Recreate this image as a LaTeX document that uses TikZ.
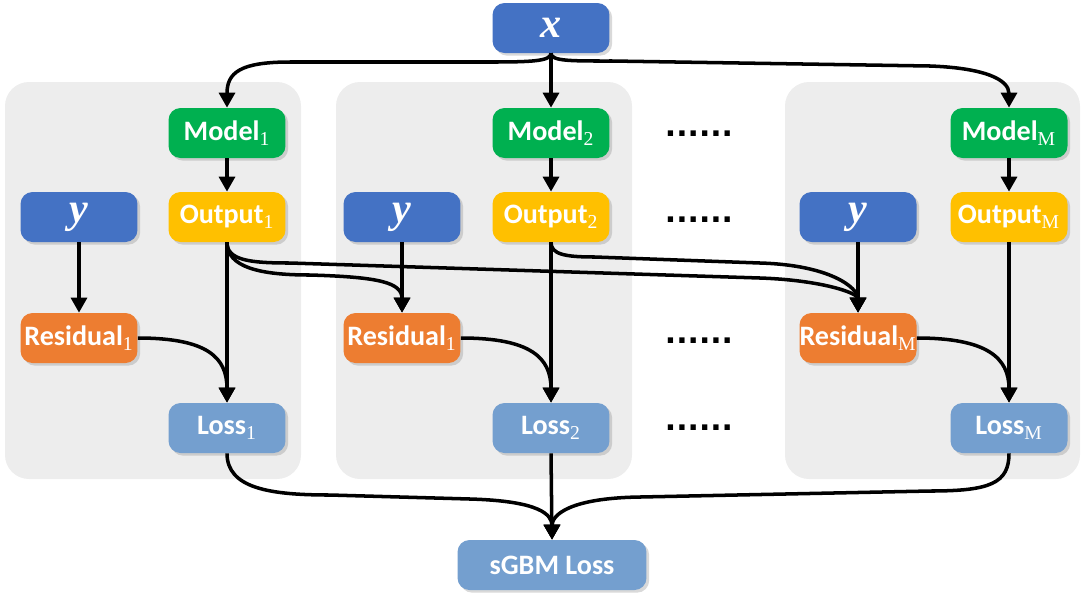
\documentclass[tikz,border=0pt]{standalone}
\usepackage{fontspec}
\setmainfont{Carlito}
\newfontfamily\varfont{Liberation Serif}
\newfontfamily\dotfont{DejaVu Sans}
\usetikzlibrary{arrows.meta,shadows}

\definecolor{inblue}{HTML}{4472C4}
\definecolor{modelgreen}{HTML}{00B050}
\definecolor{outyellow}{HTML}{FFC000}
\definecolor{resorange}{HTML}{ED7D31}
\definecolor{lossblue}{HTML}{749FCF}
\definecolor{panelgrey}{HTML}{EDEDED}

\newcommand{\var}[1]{{\varfont\fontsize{24}{24}\selectfont\bfseries\itshape #1}}
\newcommand{\sub}[1]{\textsubscript{\varfont\mdseries #1}}

\tikzset{
  box/.style={rounded corners=0.24cm, minimum width=2.34cm, minimum height=1cm,
    inner sep=0pt, text=white, font=\fontsize{16}{19}\selectfont\bfseries,
    drop shadow={shadow xshift=1.5pt, shadow yshift=-1.5pt, opacity=0.3}},
  arr/.style={line width=2pt, -{Triangle[length=8.5pt,width=9pt]}},
  panel/.style={fill=panelgrey, rounded corners=0.48cm},
  dots/.style={font=\dotfont\fontsize{17}{17}\selectfont\bfseries}
}

\begin{document}
\begin{tikzpicture}[x=0.02cm,y=-0.02cm]
\useasboundingbox (0,0) rectangle (1084,596);
% panels
\fill[panel] (5,82) rectangle (301,479);
\fill[panel] (336,82) rectangle (632,479);
\fill[panel] (785,82) rectangle (1080,479);

\node[box, fill=inblue] (x) at (551,28) {\var{x}};

\node[box, fill=modelgreen] (m1) at (227,133) {Model\sub{1}};
\node[box, fill=modelgreen] (m2) at (551,133) {Model\sub{2}};
\node[box, fill=modelgreen] (mM) at (1009,133) {Model\sub{M}};

\node[box, fill=inblue] (y1) at (79,217) {\var{y}};
\node[box, fill=inblue] (y2) at (402,217) {\var{y}};
\node[box, fill=inblue] (yM) at (858,217) {\var{y}};
\node[box, fill=outyellow] (o1) at (227,217) {Output\sub{1}};
\node[box, fill=outyellow] (o2) at (551,217) {Output\sub{2}};
\node[box, fill=outyellow] (oM) at (1009,217) {Output\sub{M}};

\node[box, fill=resorange] (r1) at (79,338) {Residual\sub{1}};
\node[box, fill=resorange] (r2) at (402,338) {Residual\sub{1}};
\node[box, fill=resorange] (rM) at (858,338) {Residual\sub{M}};

\node[box, fill=lossblue] (l1) at (227,428) {Loss\sub{1}};
\node[box, fill=lossblue] (l2) at (551,428) {Loss\sub{2}};
\node[box, fill=lossblue] (lM) at (1009,428) {Loss\sub{M}};

\node[box, fill=lossblue, minimum width=3.78cm] (sgbm) at (552,565) {sGBM Loss};

\node[dots] (d1) at (699,134) {......};
\node[dots] (d2) at (699,220) {......};
\node[dots] (d3) at (699,341) {......};
\node[dots] (d4) at (699,428) {......};

% x to the models
\draw[arr] (x.south) .. controls +(0,8) and +(40,0) .. (490,62) -- (290,62)
  .. controls +(-50,0) and +(0,-35) .. (m1.north);
\draw[arr] (x.south) -- (m2.north);
\draw[arr] (x.south) .. controls +(0,8) and +(-40,0) .. (612,61) -- (930,66)
  .. controls +(55,2) and +(0,-28) .. (mM.north);

\foreach \i in {1,2,M} {
  \draw[arr] (m\i) -- (o\i);
  \draw[arr] (y\i) -- (r\i);
  \draw[arr] (o\i) -- (l\i);
  \draw[arr] (r\i.east) .. controls +(70,0) and +(0,-45) .. (l\i.north);
}

% outputs to later residuals
\draw[arr] (o1.south) .. controls +(0,25) and +(-50,0) .. (310,275)
  .. controls +(70,2) and +(0,-30) .. (r2.north);
\draw[arr] (o1.south) .. controls +(0,18) and +(-40,0) .. (290,263) -- (760,278)
  .. controls +(60,2) and +(0,-20) .. (rM.north);
\draw[arr] (o2.south) .. controls +(0,12) and +(-30,0) .. (595,257) -- (760,263)
  .. controls +(70,2) and +(0,-25) .. (rM.north);

% losses to sGBM loss
\draw[arr] (l1.south) .. controls +(0,35) and +(-60,0) .. (330,495) -- (470,499)
  .. controls +(70,2) and +(0,-25) .. (sgbm.north);
\draw[arr] (l2.south) -- (sgbm.north);
\draw[arr] (lM.south) .. controls +(0,30) and +(60,0) .. (930,491) -- (640,497)
  .. controls +(-70,1) and +(0,-25) .. (sgbm.north);
\end{tikzpicture}
\end{document}
